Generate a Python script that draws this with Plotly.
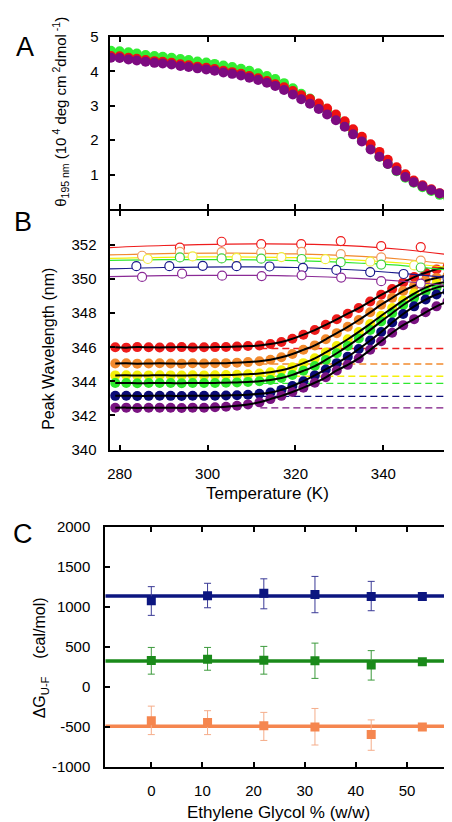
import plotly.graph_objects as go

W, H = 452, 822
FONT = "Arial, Liberation Sans, sans-serif"

# ---------------- Panel A : CD at 195 nm ----------------
tempA = [278.0, 280.0, 282.0, 283.9, 285.9, 287.9, 289.8, 291.8, 293.8, 295.7,
         297.7, 299.7, 301.6, 303.6, 305.6, 307.6, 309.5, 311.5, 313.5, 315.4,
         317.4, 319.4, 321.3, 323.3, 325.3, 327.2, 329.2, 331.2, 333.1, 335.1,
         337.1, 339.1, 341.0, 343.0, 345.0, 346.9, 348.9, 350.9, 352.8, 354.8]
cdA_green = [4.60, 4.59, 4.56, 4.52, 4.48, 4.45, 4.43, 4.40, 4.36, 4.33,
             4.29, 4.26, 4.22, 4.17, 4.13, 4.08, 4.02, 3.95, 3.87, 3.78,
             3.66, 3.51, 3.35, 3.21, 3.04, 2.87, 2.69, 2.48, 2.23, 1.99,
             1.75, 1.52, 1.31, 1.10, 0.91, 0.76, 0.63, 0.52, 0.41, 0.31]
cdA_red = [4.45, 4.44, 4.40, 4.37, 4.33, 4.30, 4.28, 4.25, 4.21, 4.18,
           4.14, 4.11, 4.07, 4.02, 3.98, 3.93, 3.87, 3.80, 3.72, 3.63,
           3.54, 3.43, 3.31, 3.20, 3.07, 2.92, 2.75, 2.55, 2.32, 2.10,
           1.88, 1.66, 1.43, 1.21, 1.01, 0.83, 0.69, 0.57, 0.46, 0.36]
cdA_purple = [4.40, 4.39, 4.35, 4.32, 4.28, 4.25, 4.23, 4.20, 4.16, 4.13,
              4.09, 4.06, 4.02, 3.97, 3.93, 3.88, 3.82, 3.75, 3.67, 3.58,
              3.46, 3.33, 3.19, 3.06, 2.91, 2.75, 2.58, 2.39, 2.17, 1.96,
              1.73, 1.52, 1.31, 1.11, 0.93, 0.78, 0.66, 0.55, 0.45, 0.36]

# ---------------- Panel B : peak wavelength ----------------
tempB = [279.0, 281.5, 284.0, 286.6, 289.1, 291.6, 294.1, 296.6, 299.2, 301.7,
         304.2, 306.7, 309.2, 311.8, 314.3, 316.8, 319.3, 321.8, 324.4, 326.9,
         329.4, 331.9, 334.4, 337.0, 339.5, 342.0, 344.5, 347.0, 349.6, 352.1, 354.6]
pk_red = [346.0, 345.98, 346.01, 346.0, 345.99, 346.0, 346.01, 345.99, 346.0, 346.01,
          346.02, 346.04, 346.07, 346.11, 346.19, 346.31, 346.5, 346.74, 347.01, 347.32,
          347.64, 347.97, 348.3, 348.69, 349.08, 349.42, 349.8, 350.12, 350.37, 350.57, 350.72]
pk_orange = [345.05, 345.06, 345.04, 345.05, 345.06, 345.05, 345.04, 345.06, 345.05, 345.06,
             345.07, 345.10, 345.13, 345.18, 345.27, 345.41, 345.61, 345.85, 346.11, 346.47,
             346.83, 347.2, 347.6, 348.05, 348.5, 348.9, 349.3, 349.61, 349.9, 350.07, 350.2]
pk_yellow = [344.35, 344.36, 344.34, 344.35, 344.36, 344.35, 344.34, 344.36, 344.35, 344.36,
             344.37, 344.39, 344.42, 344.46, 344.53, 344.65, 344.83, 345.07, 345.35, 345.7,
             346.07, 346.47, 346.9, 347.37, 347.85, 348.3, 348.75, 349.15, 349.5, 349.73, 349.85]
pk_green = [343.9, 343.91, 343.89, 343.9, 343.91, 343.9, 343.89, 343.91, 343.9, 343.91,
            343.92, 343.94, 343.97, 344.01, 344.08, 344.2, 344.38, 344.62, 344.9, 345.26,
            345.65, 346.07, 346.52, 347.02, 347.52, 348.0, 348.48, 348.9, 349.27, 349.5, 349.65]
pk_navy = [343.15, 343.16, 343.14, 343.15, 343.16, 343.15, 343.14, 343.16, 343.15, 343.16,
           343.17, 343.19, 343.22, 343.27, 343.35, 343.5, 343.73, 344.01, 344.35, 344.7,
           345.07, 345.45, 345.9, 346.4, 346.9, 347.45, 347.95, 348.4, 348.8, 349.1, 349.27]
pk_purple = [342.45, 342.46, 342.44, 342.45, 342.46, 342.45, 342.44, 342.46, 342.45, 342.48,
             342.51, 342.57, 342.65, 342.77, 342.96, 343.15, 343.38, 343.63, 343.92, 344.24,
             344.64, 344.97, 345.35, 345.85, 346.35, 346.85, 347.3, 347.65, 348.05, 348.4, 348.7]

# open circles (unfolded-state points)
uo_red_T = [293.7, 303.2, 312.2, 321.3, 330.3, 339.5, 348.5]
uo_red = [351.85, 352.19, 352.05, 352.05, 352.23, 351.94, 351.88]
uo_orange_T = [285.1, 293.7, 303.2, 312.2, 321.4, 330.3, 339.5, 348.5]
uo_orange = [351.37, 351.6, 351.58, 351.56, 351.6, 351.46, 351.27, 351.08]
uo_yellow_T = [286.4, 296.6, 306.6, 316.8, 326.8, 337.0, 347.0]
uo_yellow = [351.18, 351.33, 351.25, 351.29, 351.17, 351.02, 350.80]
uo_green_T = [293.7, 303.2, 312.2, 321.4, 330.3, 339.5, 348.5]
uo_green = [351.27, 351.21, 351.2, 351.18, 350.99, 350.85, 350.68]
uo_navy_T = [283.8, 291.3, 298.9, 306.6, 314.1, 321.7, 329.3, 337.0, 344.6, 354.6]
uo_navy = [350.76, 350.76, 350.78, 350.76, 350.74, 350.66, 350.54, 350.41, 350.30, 350.03]
uo_purple_T = [285.1, 294.2, 303.3, 312.3, 321.4, 330.4, 339.5, 348.5]
uo_purple = [350.13, 350.32, 350.2, 350.18, 350.22, 350.09, 349.88, 349.74]

# unfolded baseline fit lines
fitT = [277.7, 290, 305, 320, 335, 345, 356.3]
fit_red = [351.85, 351.97, 352.05, 352.05, 351.92, 351.72, 351.38]
fit_orange = [351.42, 351.5, 351.52, 351.48, 351.33, 351.15, 350.85]
fit_yellow = [351.22, 351.28, 351.3, 351.26, 351.1, 350.93, 350.63]
fit_green = [351.1, 351.14, 351.14, 351.08, 350.93, 350.78, 350.48]
fit_navy = [350.6, 350.68, 350.72, 350.68, 350.52, 350.32, 350.05]
fit_purple = [350.15, 350.2, 350.22, 350.18, 350.03, 349.86, 349.58]

# native baselines (dashed)
native_T = [312.0, 356.3]
native_levels = [345.93, 345.02, 344.3, 343.88, 343.12, 342.45]

# ---------------- Panel C : dG vs ethylene glycol ----------------
eg = [0, 11, 22, 32, 43, 53]
dg_navy = [1082, 1143, 1176, 1159, 1135, 1135]
dg_navy_up = [175, 156, 179, 226, 188, 0]
dg_navy_dn = [184, 150, 196, 228, 179, 0]
dg_green = [334, 350, 338, 330, 277, 318]
dg_green_up = [163, 147, 172, 221, 180, 0]
dg_green_dn = [171, 138, 175, 220, 188, 0]
dg_orange = [-421, -441, -483, -498, -593, -498]
dg_orange_up = [184, 147, 168, 232, 184, 0]
dg_orange_dn = [172, 152, 183, 225, 196, 0]
mean_navy, mean_green, mean_orange = 1140, 326, -490

xrangeAB = [277.7, 356.3]
xrangeC = [-9, 59]

C_RED = "#ee1c1c"
C_ORANGE = "#f28a2e"
C_YELLOW = "#f4ef0a"
C_GREEN = "#2ee82e"
C_NAVY = "#0b0b78"
C_PURPLE = "#7a1482"

fig = go.Figure()

# Panel A
for vals, col in [(cdA_green, "#33ee33"), (cdA_red, "#ee1111"), (cdA_purple, "#7d0a80")]:
    fig.add_trace(go.Scatter(x=tempA, y=vals, mode="markers", xaxis="x", yaxis="y",
                             marker=dict(size=10, color=col, line=dict(width=0))))

# Panel B
series = [(pk_red, C_RED), (pk_orange, C_ORANGE), (pk_yellow, C_YELLOW),
          (pk_green, C_GREEN), (pk_navy, C_NAVY), (pk_purple, C_PURPLE)]
for lvl, (_, col) in zip(native_levels, series):
    fig.add_trace(go.Scatter(x=native_T, y=[lvl, lvl], mode="lines", xaxis="x2", yaxis="y2",
                             line=dict(color=col, width=1.3, dash="7px,4px")))
for vals, col in series:
    fig.add_trace(go.Scatter(x=tempB, y=vals, mode="markers", xaxis="x2", yaxis="y2",
                             marker=dict(size=10, color=col, line=dict(width=0))))
for vals, col in series:
    fig.add_trace(go.Scatter(x=tempB, y=vals, mode="lines", xaxis="x2", yaxis="y2",
                             line=dict(color="black", width=2, shape="spline")))
fits = [(fit_red, C_RED), (fit_orange, C_ORANGE), (fit_yellow, C_YELLOW),
        (fit_green, C_GREEN), (fit_navy, "#1a1a8c"), (fit_purple, "#8a2a96")]
for vals, col in fits:
    fig.add_trace(go.Scatter(x=fitT, y=vals, mode="lines", xaxis="x2", yaxis="y2",
                             line=dict(color=col, width=1.2, shape="spline")))
opens = [(uo_red_T, uo_red, C_RED), (uo_orange_T, uo_orange, "#f09a60"),
         (uo_yellow_T, uo_yellow, "#f0ea40"), (uo_green_T, uo_green, "#40d040"),
         (uo_navy_T, uo_navy, "#1a1a8c"), (uo_purple_T, uo_purple, "#8a2a96")]
for tx, vals, col in opens:
    fig.add_trace(go.Scatter(x=tx, y=vals, mode="markers", xaxis="x2", yaxis="y2",
                             marker=dict(size=9, color="white", line=dict(color=col, width=1.2))))

# Panel C
cser = [(dg_navy, dg_navy_up, dg_navy_dn, mean_navy, "#0c1680", "#3a3a96"),
        (dg_green, dg_green_up, dg_green_dn, mean_green, "#1a8a1a", "#3c9a3c"),
        (dg_orange, dg_orange_up, dg_orange_dn, mean_orange, "#f5864f", "#f5ad8a")]
for vals, up, dn, mean, col, ecol in cser:
    fig.add_trace(go.Scatter(x=xrangeC, y=[mean, mean], mode="lines", xaxis="x3", yaxis="y3",
                             line=dict(color=col, width=3.5)))
    fig.add_trace(go.Scatter(x=eg, y=vals, mode="markers", xaxis="x3", yaxis="y3",
                             marker=dict(symbol="square", size=9, color=col),
                             error_y=dict(type="data", symmetric=False, array=up, arrayminus=dn,
                                          color=ecol, thickness=1, width=3.5)))

def ax(**kw):
    d = dict(showline=True, linecolor="black", linewidth=2, mirror="ticks",
             ticks="inside", ticklen=5, tickwidth=2, tickcolor="black",
             showgrid=False, zeroline=False,
             tickfont=dict(family=FONT, size=15, color="black"))
    d.update(kw)
    return d

yA_top = 1 - 20.5 / H
yA_bot = 1 - 196 / H
yB_top = 1 - 198 / H
yB_bot = 1 - 441.7 / H
yC_top = 1 - 521 / H
yC_bot = 1 - 766 / H

fig.update_layout(
    width=W, height=H, autosize=False,
    margin=dict(l=0, r=0, t=0, b=0),
    paper_bgcolor="white", plot_bgcolor="white",
    showlegend=False,
    font=dict(family=FONT, color="black"),
    xaxis=ax(domain=[100 / W, 447 / W], range=xrangeAB, anchor="y",
             tickvals=[280, 300, 320, 340], showticklabels=False),
    yaxis=ax(domain=[yA_bot, yA_top], range=[0, 5], anchor="x",
             tickvals=[1, 2, 3, 4, 5], ticklabelstandoff=6),
    xaxis2=ax(domain=[100 / W, 447 / W], range=xrangeAB, anchor="y2",
              tickvals=[280, 300, 320, 340], ticklabelstandoff=9),
    yaxis2=ax(domain=[yB_bot, yB_top], range=[340, 354], anchor="x2",
              tickvals=[340, 342, 344, 346, 348, 350, 352], ticklabelstandoff=8),
    xaxis3=ax(domain=[95.7 / W, 445 / W], range=xrangeC, anchor="y3",
              tickvals=[0, 10, 20, 30, 40, 50], ticklabelstandoff=9),
    yaxis3=ax(domain=[yC_bot, yC_top], range=[-1000, 2000], anchor="x3",
              tickvals=[-1000, -500, 0, 500, 1000, 1500, 2000],
              ticktext=["-1000", "-500", "0", "500", "1000", "1500", "2000"],
              ticklabelstandoff=10),
)

ann = []
def label(txt, x, y, size, angle=0, xanchor="center", yanchor="middle"):
    ann.append(dict(text=txt, x=x / W, y=1 - y / H, xref="paper", yref="paper",
                    showarrow=False, textangle=angle, xanchor=xanchor, yanchor=yanchor,
                    font=dict(family=FONT, size=size, color="black")))

label("A", 15, 31, 27)
label("B", 13, 209, 27)
label("C", 13, 528, 27)
label("Temperature (K)", 259, 487, 17)
label("Ethylene Glycol % (w/w)", 270, 812, 17)
label("Peak Wavelength (nm)", 39, 339, 16, angle=-90)
label("θ<sub>195 nm</sub> (10<sup> 4</sup> deg cm<sup> 2</sup>dmol<sup> -1</sup>)", 51, 97, 15, angle=-90)
label("ΔG<sub>U-F</sub>\u00a0\u00a0\u00a0\u00a0(cal/mol)", 31, 654, 16, angle=-90)
fig.update_layout(annotations=ann)

fig.write_html("out.html")
